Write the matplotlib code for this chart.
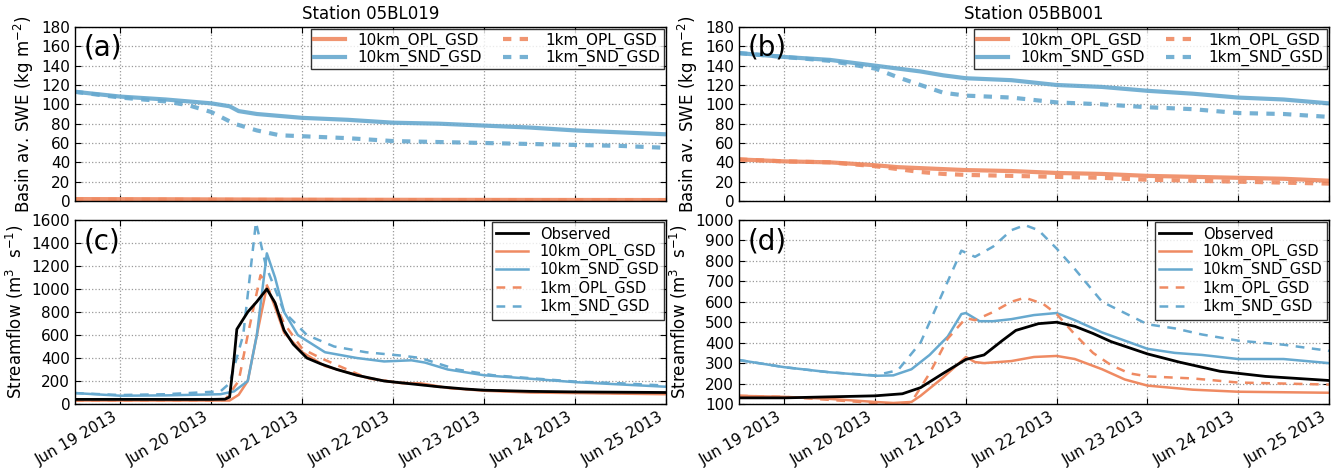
import matplotlib
matplotlib.use("Agg")
import matplotlib.pyplot as plt
import matplotlib.dates as mdates
import pandas as pd

# ---------------- data (day of June 2013, values) ----------------
# Panel (a): Station 05BL019 basin average SWE
a_t_10snd = [18.5, 19.0, 19.5, 20.0, 20.2, 20.3, 20.5, 21.0, 21.5, 22.0, 22.5, 23.0, 23.5, 24.0, 24.5, 25.0]
a_v_10snd = [113, 108, 105, 101, 98, 93, 90, 86, 84, 81, 80, 78, 76, 73, 71, 69]
a_t_1snd = [18.5, 19.0, 19.5, 19.75, 20.0, 20.25, 20.5, 20.75, 21.0, 21.5, 22.0, 22.5, 23.0, 23.5, 24.0, 24.5, 25.0]
a_v_1snd = [113, 107, 103, 99, 92, 80, 73, 68, 67, 65, 62, 61, 60, 59, 58, 57, 55]
a_t_opl = [18.5, 19.5, 20.5, 21.5, 22.5, 23.5, 25.0]
a_v_10opl = [2.0, 1.8, 1.5, 1.3, 1.2, 1.1, 1.0]
a_v_1opl = [1.5, 1.3, 1.1, 1.0, 0.9, 0.8, 0.8]

# Panel (b): Station 05BB001 basin average SWE
b_t = [18.5, 19.0, 19.5, 20.0, 20.25, 20.5, 20.75, 21.0, 21.5, 22.0, 22.5, 23.0, 23.5, 24.0, 24.5, 25.0]
b_v_10snd = [153, 149, 146, 140, 137, 134, 130, 127, 125, 120, 118, 114, 111, 107, 105, 101]
b_v_1snd = [153, 149, 145, 137, 128, 120, 112, 109, 107, 102, 100, 97, 95, 91, 90, 87]
b_v_10opl = [43, 41, 40, 37, 35, 34, 33, 32, 31, 29, 28, 26, 25, 24, 23, 21]
b_v_1opl = [43, 41, 40, 36, 33, 30, 28, 27, 26, 25, 24, 22, 21, 20, 19, 18]

# Panel (c): Station 05BL019 streamflow
c_t_obs = [18.5, 19.0, 19.5, 20.0, 20.15, 20.2, 20.25, 20.28, 20.4, 20.5, 20.61, 20.7, 20.8, 20.9, 21.05,
           21.2, 21.38, 21.6, 21.9, 22.2, 22.5, 22.8, 23.0, 23.5, 24.0, 25.0]
c_v_obs = [40, 40, 40, 40, 42, 60, 400, 650, 800, 890, 1000, 880, 640, 520, 400,
           350, 300, 250, 200, 175, 150, 130, 120, 110, 105, 100]
c_t_10opl = [18.5, 19.0, 20.0, 20.2, 20.3, 20.4, 20.5, 20.61, 20.65, 20.72, 20.8, 21.0, 21.25, 21.75,
             22.1, 22.3, 22.6, 23.0, 23.5, 24.0, 25.0]
c_v_10opl = [30, 30, 30, 30, 80, 200, 600, 1020, 950, 800, 620, 450, 330, 220, 180, 180, 140, 115, 100, 95, 85]
c_t_1opl = [18.5, 19.0, 20.0, 20.15, 20.3, 20.4, 20.54, 20.6, 20.8, 21.0, 21.2, 21.7, 22.0, 22.2, 22.6,
            23.0, 23.5, 24.0, 25.0]
c_v_1opl = [30, 30, 30, 35, 200, 600, 1120, 1050, 700, 480, 400, 230, 190, 180, 140, 120, 105, 100, 90]
c_t_10snd = [18.5, 19.0, 19.5, 20.1, 20.25, 20.4, 20.5, 20.61, 20.7, 20.8, 20.95, 21.25, 21.6, 21.9,
             22.2, 22.35, 22.6, 23.0, 23.5, 24.0, 24.5, 25.0]
c_v_10snd = [95, 72, 75, 85, 110, 200, 600, 1310, 1100, 800, 600, 450, 400, 370, 380, 360, 300, 250, 220, 190, 170, 150]
c_t_1snd = [18.5, 19.0, 19.5, 20.1, 20.2, 20.35, 20.49, 20.6, 20.8, 21.05, 21.35, 21.7, 22.1, 22.3,
            22.7, 23.1, 23.5, 24.0, 24.5, 25.0]
c_v_1snd = [95, 78, 85, 110, 180, 600, 1580, 1200, 800, 600, 500, 450, 420, 400, 300, 250, 225, 195, 180, 160]

# Panel (d): Station 05BB001 streamflow
d_t_obs = [18.5, 19.0, 19.5, 20.0, 20.3, 20.5, 20.75, 21.0, 21.2, 21.4, 21.55, 21.8, 22.0, 22.2, 22.4,
           22.6, 23.0, 23.35, 23.8, 24.3, 25.0]
d_v_obs = [130, 130, 135, 140, 150, 180, 250, 318, 340, 410, 460, 493, 500, 480, 445, 405, 345, 305, 260, 235, 215]
d_t_10opl = [18.5, 19.0, 19.5, 20.0, 20.2, 20.4, 20.5, 20.75, 21.0, 21.1, 21.2, 21.5, 21.75, 22.0,
             22.2, 22.5, 22.75, 23.0, 23.5, 24.0, 25.0]
d_v_10opl = [140, 135, 125, 110, 105, 110, 140, 230, 330, 305, 300, 310, 330, 335, 320, 270, 220, 190, 170, 160, 155]
d_t_1opl = [18.5, 19.0, 19.5, 20.0, 20.3, 20.4, 20.6, 20.8, 21.0, 21.1, 21.3, 21.5, 21.65, 21.85, 22.0,
            22.2, 22.4, 22.6, 22.8, 23.0, 23.5, 24.0, 25.0]
d_v_1opl = [140, 135, 120, 105, 100, 110, 250, 420, 520, 510, 550, 600, 620, 590, 540,
            440, 350, 290, 250, 235, 225, 205, 195]
d_t_10snd = [18.5, 19.0, 19.5, 20.0, 20.2, 20.4, 20.6, 20.8, 20.95, 21.0, 21.15, 21.3, 21.5, 21.75, 22.0,
             22.2, 22.5, 23.0, 23.3, 23.6, 24.0, 24.5, 25.0]
d_v_10snd = [315, 280, 255, 238, 240, 270, 340, 430, 540, 545, 505, 505, 515, 535, 545,
             510, 450, 370, 350, 340, 320, 320, 300]
d_t_1snd = [18.5, 19.0, 19.5, 20.0, 20.25, 20.5, 20.75, 20.95, 21.1, 21.3, 21.5, 21.65, 21.8, 22.0,
            22.2, 22.5, 23.0, 23.3, 23.6, 24.0, 24.5, 25.0]
d_v_1snd = [315, 280, 255, 240, 265, 400, 650, 850, 820, 870, 950, 975, 950, 860, 760, 600, 490, 470, 440, 410, 390, 360]

titles = ["Station 05BL019", "Station 05BB001"]
panel_labels = ["(a)", "(b)", "(c)", "(d)"]

# ---------------- styling ----------------
ORANGE = "#ef8a62"
BLUE = "#67a9cf"
plt.rcParams['font.family'] = ['DejaVu Sans']
plt.rcParams['mathtext.default'] = 'regular'


def to_dt(days):
    return pd.Timestamp("2013-06-01") + pd.to_timedelta([d - 1 for d in days], unit="D")


fig = plt.figure(figsize=(13.38, 4.68), dpi=100)
W, H = 1338, 468
def rect(x0, y0, x1, y1):
    return [x0 / W, 1 - y1 / H, (x1 - x0) / W, (y1 - y0) / H]

ax_a = fig.add_axes(rect(75, 27, 666, 201))
ax_b = fig.add_axes(rect(739, 27, 1329, 201))
ax_c = fig.add_axes(rect(75, 220, 666, 404))
ax_d = fig.add_axes(rect(739, 220, 1329, 404))

xmin = pd.Timestamp("2013-06-18 12:00")
xmax = pd.Timestamp("2013-06-25 00:00")

def style(ax):
    ax.set_xlim(xmin, xmax)
    ax.grid(True, linestyle=':', color='#999999', linewidth=0.9)
    ax.tick_params(direction='in', labelsize=11, top=True, right=True, length=4)
    for s in ax.spines.values():
        s.set_linewidth(1.0)
    ax.xaxis.set_major_locator(mdates.DayLocator())
    ax.xaxis.set_major_formatter(mdates.DateFormatter("%b %d %Y"))

# top panels
lw_top = 3.0
for ax, t10, v10snd, t1, v1snd, to, v10o, v1o in [
    (ax_a, a_t_10snd, a_v_10snd, a_t_1snd, a_v_1snd, a_t_opl, a_v_10opl, a_v_1opl),
    (ax_b, b_t, b_v_10snd, b_t, b_v_1snd, b_t, b_v_10opl, b_v_1opl),
]:
    ax.plot(to_dt(to), v10o, color=ORANGE, lw=lw_top, alpha=0.9, label="10km_OPL_GSD")
    ax.plot(to_dt(t10), v10snd, color=BLUE, lw=lw_top, alpha=0.9, label="10km_SND_GSD")
    ax.plot(to_dt(to), v1o, color=ORANGE, lw=lw_top, alpha=0.9, ls=(0, (2, 2)), label="1km_OPL_GSD")
    ax.plot(to_dt(t1), v1snd, color=BLUE, lw=lw_top, alpha=0.9, ls=(0, (2, 2)), label="1km_SND_GSD")
    style(ax)
    ax.set_ylim(0, 180)
    ax.set_yticks(range(0, 181, 20))
    ax.tick_params(labelbottom=False)
    ax.set_ylabel("Basin av. SWE (kg m$^{-2}$)", fontsize=12)
    leg = ax.legend(loc='upper right', ncol=2, fontsize=11, frameon=True, fancybox=False,
                    borderaxespad=0.15, handlelength=2.0, columnspacing=1.4, labelspacing=0.1,
                    borderpad=0.2, handletextpad=0.8)
    leg.get_frame().set_edgecolor('black')
    leg.get_frame().set_linewidth(1.0)

ax_a.set_title(titles[0], fontsize=12)
ax_b.set_title(titles[1], fontsize=12)

# bottom panels
lw_bot = 1.8
for ax, series in [
    (ax_c, [(c_t_obs, c_v_obs), (c_t_10opl, c_v_10opl), (c_t_10snd, c_v_10snd), (c_t_1opl, c_v_1opl), (c_t_1snd, c_v_1snd)]),
    (ax_d, [(d_t_obs, d_v_obs), (d_t_10opl, d_v_10opl), (d_t_10snd, d_v_10snd), (d_t_1opl, d_v_1opl), (d_t_1snd, d_v_1snd)]),
]:
    (to_, vo), (t10o, v10o), (t10s, v10s), (t1o, v1o), (t1s, v1s) = series
    ax.plot(to_dt(to_), vo, color='black', lw=2.0, label="Observed", zorder=5)
    ax.plot(to_dt(t10o), v10o, color=ORANGE, lw=lw_bot, label="10km_OPL_GSD")
    ax.plot(to_dt(t10s), v10s, color=BLUE, lw=lw_bot, label="10km_SND_GSD")
    ax.plot(to_dt(t1o), v1o, color=ORANGE, lw=lw_bot, ls=(0, (3.5, 3)), label="1km_OPL_GSD")
    ax.plot(to_dt(t1s), v1s, color=BLUE, lw=lw_bot, ls=(0, (3.5, 3)), label="1km_SND_GSD")
    style(ax)
    ax.set_ylabel("Streamflow (m$^3$  s$^{-1}$)", fontsize=12)
    leg = ax.legend(loc='upper right', fontsize=10.5, frameon=True, fancybox=False,
                    borderaxespad=0.15, handlelength=2.2, labelspacing=0.15,
                    borderpad=0.3, handletextpad=0.8)
    leg.get_frame().set_edgecolor('black')
    leg.get_frame().set_linewidth(1.0)
    for lab in ax.get_xticklabels():
        lab.set_rotation(30)
        lab.set_ha('right')
        lab.set_rotation_mode('default')

ax_c.set_ylim(0, 1600)
ax_c.set_yticks(range(0, 1601, 200))
ax_d.set_ylim(100, 1000)
ax_d.set_yticks(range(100, 1001, 100))

for ax, lab in zip([ax_a, ax_b, ax_c, ax_d], panel_labels):
    ax.text(0.015, 0.96, lab, transform=ax.transAxes, fontsize=20, va='top', ha='left')

fig.savefig("out.png", dpi=100, facecolor='white')
